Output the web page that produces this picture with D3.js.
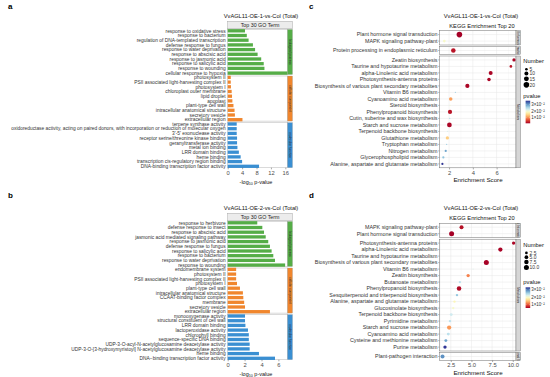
<!DOCTYPE html>
<html><head><meta charset="utf-8">
<script src="https://cdn.jsdelivr.net/npm/d3@7/dist/d3.min.js"></script>
<style>
body{margin:0;background:#fff}
svg{display:block}
text{font-family:"Liberation Sans",Arial,Helvetica,sans-serif}
</style>
</head><body>
<svg id="fig" width="550" height="377"></svg>
<script>
// ---------------- DATA ----------------
const goGroupNames = {BP:"biological process", CC:"cellular component", MF:"molecular function"};
const goGroupColors = {BP:"#55ad47", CC:"#f0862d", MF:"#3a8fd2"};

const goA_title = "VvAGL11-OE-1-vs-Col (Total)";
const goA_terms = [
 "response to oxidative stress","response to bacterium","regulation of DNA-templated transcription","defense response to fungus","response to water deprivation","response to abscisic acid","response to jasmonic acid","response to salicylic acid","response to wounding","cellular response to hypoxia",
 "photosystem II","PSII associated light-harvesting complex II","photosystem I","chloroplast outer membrane","lipid droplet","apoplast","plant-type cell wall","intracellular anatomical structure","secretory vesicle","extracellular region",
 "terpene synthase activity","oxidoreductase activity, acting on paired donors, with incorporation or reduction of molecular oxygen","3'-5' exonuclease activity","receptor serine/threonine kinase binding","geranyltransferase activity","metal ion binding","LRR domain binding","heme binding","transcription cis-regulatory region binding","DNA-binding transcription factor activity"];
const goA_values = [4.8,5.3,5.8,7.0,7.6,8.3,9.3,10.0,10.2,16.6, 0.85,0.85,0.9,1.1,1.2,1.3,1.6,1.9,2.0,4.1, 2.5,2.5,2.5,2.6,2.6,2.7,3.1,3.6,4.0,8.7];
const goA_groups = ["BP","BP","BP","BP","BP","BP","BP","BP","BP","BP","CC","CC","CC","CC","CC","CC","CC","CC","CC","CC","MF","MF","MF","MF","MF","MF","MF","MF","MF","MF"];
const goA_ticks = [0,4,8,12,16];

const goB_title = "VvAGL11-OE-2-vs-Col (Total)";
const goB_terms = [
 "response to herbivore","defense response to insect","response to abscisic acid","jasmonic acid mediated signaling pathway","response to jasmonic acid","defense response to fungus","response to salicylic acid","response to bacterium","response to water deprivation","response to wounding",
 "endomembrane system","photosystem II","PSII associated light-harvesting complex II","photosystem I","plant-type cell wall","intracellular anatomical structure","CCAAT-binding factor complex","membrane","secretory vesicle","extracellular region",
 "monooxygenase activity","structural constituent of cell wall","LRR domain binding","lactoperoxidase activity","chlorophyll binding","sequence-specific DNA binding","UDP-3-O-acyl-N-acetylglucosamine deacetylase activity","UDP-3-O-[3-hydroxymyristoyl] N-acetylglucosamine deacetylase activity","heme binding","DNA\u2212binding transcription factor activity"];
const goB_values = [3.5,4.1,4.3,4.5,4.8,5.0,5.2,5.4,5.6,6.8, 1.0,1.0,1.0,1.1,1.45,1.8,1.85,1.95,2.05,5.0, 2.05,2.05,2.1,2.4,2.5,2.5,2.6,2.6,3.7,5.6];
const goB_groups = ["BP","BP","BP","BP","BP","BP","BP","BP","BP","BP","CC","CC","CC","CC","CC","CC","CC","CC","CC","CC","MF","MF","MF","MF","MF","MF","MF","MF","MF","MF"];
const goB_ticks = [0,2,4,6];

const keggClassNames = {EIP:"Environmental Information Processing", GIP:"Genetic Information Processing", M:"Metabolism", OS:"Organismal Systems"};

const keggC_title = "VvAGL11-OE-1-vs-Col (Total)";
const keggC_terms = ["Plant hormone signal transduction","MAPK signaling pathway-plant","Protein processing in endoplasmic reticulum",
 "Zeatin biosynthesis","Taurine and hypotaurine metabolism","alpha-Linolenic acid metabolism","Photosynthesis-antenna proteins","Biosynthesis of various plant secondary metabolites","Vitamin B6 metabolism","Cyanoamino acid metabolism","Steroid biosynthesis","Phenylpropanoid biosynthesis","Cutin, suberine and wax biosynthesis","Starch and sucrose metabolism","Terpenoid backbone biosynthesis","Glutathione metabolism","Tryptophan metabolism","Nitrogen metabolism","Glycerophospholipid metabolism","Alanine, aspartate and glutamate metabolism"];
const keggC_class = ["EIP","EIP","GIP","M","M","M","M","M","M","M","M","M","M","M","M","M","M","M","M","M"];
const keggC_score = [2.87,1.6,2.36,7.46,7.2,5.5,5.36,3.54,2.53,2.14,2.08,2.08,2.06,2.03,1.86,1.86,1.8,1.72,1.52,1.44];
const keggC_count = [20,5,13,7,5,10,8,11,3,8,3,11,3,14,3,7,3,4,4,4];
const keggC_pvalue = [0.0016,0.019,0.003,0.002,0.003,0.002,0.002,0.002,0.026,0.011,0.020,0.003,0.025,0.002,0.022,0.014,0.026,0.029,0.027,0.0354];
const keggC_sizeBreaks = [5,10,15,20];
const keggC_pBreaks = [0.03,0.02,0.01];
const keggC_ticks = [2,4,6];

const keggD_title = "VvAGL11-OE-2-vs-Col (Total)";
const keggD_terms = ["MAPK signaling pathway-plant","Plant hormone signal transduction",
 "Photosynthesis-antenna proteins","alpha-Linolenic acid metabolism","Taurine and hypotaurine metabolism","Biosynthesis of various plant secondary metabolites","Vitamin B6 metabolism","Zeatin biosynthesis","Butanoate metabolism","Phenylpropanoid biosynthesis","Sesquiterpenoid and triterpenoid biosynthesis","Alanine, aspartate and glutamate metabolism","Glucosinolate biosynthesis","Terpenoid backbone biosynthesis","Pyrimidine metabolism","Starch and sucrose metabolism","Cyanoamino acid metabolism","Cysteine and methionine metabolism","Purine metabolism",
 "Plant-pathogen interaction"];
const keggD_class = ["EIP","EIP","M","M","M","M","M","M","M","M","M","M","M","M","M","M","M","M","M","OS"];
const keggD_score = [3.8,2.6,10.1,8.5,7.5,6.8,5.2,4.6,3.6,3.5,3.25,2.95,2.8,2.55,2.4,2.3,2.2,1.9,1.8,1.5];
const keggD_count = [6,10,4,7,1,10,1,4,2,8,2,2,2,3,2,7,3,3,4,6];
const keggD_pvalue = [0.0065,0.0056,0.006,0.0058,0.02,0.0057,0.022,0.012,0.024,0.0062,0.026,0.019,0.020,0.023,0.024,0.013,0.024,0.028,0.0332,0.029];
const keggD_sizeBreaks = [2.5,5,7.5,10];
const keggD_pBreaks = [0.03,0.02,0.01];
const keggD_ticks = [2.5,5,7.5,10];

// ---------------- DRAW ----------------
const svg = d3.select("#fig");
svg.append("rect").attr("width",550).attr("height",377).attr("fill","#fff");
const axisCol = "#4d4d4d";

function panelLetter(t,x,y){
  svg.append("text").attr("x",x).attr("y",y).attr("font-size",8).attr("font-weight","bold").attr("fill","#000").text(t);
}

function drawGO(cfg){
  const g = svg.append("g").attr("transform",`translate(0,${cfg.yOff})`);
  const left = 227.7, right = 287.5, stripW = 5;
  const x = d3.scaleLinear().domain([0,cfg.xMax]).range([left,right]);
  g.append("text").attr("x",261).attr("y",18).attr("text-anchor","middle").attr("font-size",5.7).attr("fill","#111").text(cfg.title);
  g.append("rect").attr("x",left).attr("y",21.2).attr("width",right+stripW-left).attr("height",7.6).attr("fill","#ececec").attr("stroke","#9a9a9a").attr("stroke-width",0.4);
  g.append("text").attr("x",(left+right+stripW)/2).attr("y",26.9).attr("text-anchor","middle").attr("font-size",5.3).attr("fill","#1a1a1a").text("Top 30 GO Term");
  const groups = ["BP","CC","MF"];
  const tops = [29.4,76.0,122.6], ph = 45.1;
  groups.forEach((grp,gi)=>{
    const idx = cfg.groups.map((d,i)=>d===grp?i:-1).filter(i=>i>=0);
    const terms = idx.map(i=>cfg.terms[i]);
    const top = tops[gi];
    const y = d3.scalePoint().domain(terms).range([top,top+ph]).padding(0.3);
    g.append("rect").attr("x",left).attr("y",top).attr("width",right-left).attr("height",ph).attr("fill","#fff").attr("stroke","#b5b5b5").attr("stroke-width",0.5);
    g.selectAll(null).data(idx).enter().append("rect")
      .attr("x",x(0)).attr("y",i=>y(cfg.terms[i])-1.65).attr("height",3.3)
      .attr("width",i=>x(cfg.values[i])-x(0)).attr("fill",goGroupColors[grp]);
    g.selectAll(null).data(idx).enter().append("text")
      .attr("x",225.6).attr("y",i=>y(cfg.terms[i])+1.7).attr("text-anchor","end")
      .attr("font-size",4.85).attr("fill","#333").text(i=>cfg.terms[i]);
    g.append("rect").attr("x",right).attr("y",top).attr("width",stripW).attr("height",ph).attr("fill",goGroupColors[grp]).attr("stroke","#9a9a9a").attr("stroke-width",0.3);
    g.append("text").attr("transform",`translate(${right+stripW/2-1},${top+ph/2}) rotate(90)`).attr("text-anchor","middle")
      .attr("font-size",3.2).attr("fill","#2a2a2a").text(goGroupNames[grp]);
  });
  const bottom = tops[2]+ph;
  const ax = g.append("g").attr("transform",`translate(0,${bottom})`)
    .call(d3.axisBottom(x).tickValues(cfg.ticks).tickSize(1.6).tickPadding(1.2).tickFormat(d3.format("d")));
  ax.select(".domain").remove();
  ax.selectAll("line").attr("stroke","#555").attr("stroke-width",0.5);
  ax.selectAll("text").attr("font-size",5.8).attr("fill",axisCol).attr("font-family",null);
  const t = g.append("text").attr("x",256).attr("y",bottom+16).attr("text-anchor","middle").attr("font-size",5.5).attr("fill","#111");
  t.append("tspan").text("-log");
  t.append("tspan").attr("font-size",3.7).attr("dy",1.2).text("10");
  t.append("tspan").attr("dy",-1.2).text(" p-value");
}

function drawKEGG(cfg){
  const g = svg.append("g").attr("transform",`translate(0,${cfg.yOff})`);
  const left = 439.3, right = 516, stripW = 4.6, u = 6.5, gap = 1.6;
  const x = d3.scaleLinear().domain(cfg.xDomain).range([left,right]);
  const pExt = d3.extent(cfg.pvalue);
  const color = d3.scaleSequential(d3.interpolateRdYlBu).domain(pExt);
  const cExt = d3.extent(cfg.count);
  const r = n => 0.55 + Math.sqrt(Math.max(0,(n-cExt[0])/(cExt[1]-cExt[0])))*(cfg.rMax-0.55);
  g.append("text").attr("x",481).attr("y",18).attr("text-anchor","middle").attr("font-size",5.7).attr("fill","#111").text(cfg.title);
  g.append("text").attr("x",482).attr("y",28).attr("text-anchor","middle").attr("font-size",5.7).attr("fill","#111").text("KEGG Enrichment Top 20");
  const classes = [...new Set(cfg.cls)];
  let top = cfg.top;
  classes.forEach((cl,ci)=>{
    const idx = cfg.cls.map((d,i)=>d===cl?i:-1).filter(i=>i>=0);
    const terms = idx.map(i=>cfg.terms[i]);
    const ph = (terms.length-1+1.2)*u;
    const y = d3.scalePoint().domain(terms).range([top,top+ph]).padding(0.6);
    g.append("rect").attr("x",left).attr("y",top).attr("width",right-left).attr("height",ph).attr("fill","#fff");
    const ticks = cfg.ticks;
    const minor = [];
    const allT = [ticks[0]-cfg.step].concat(ticks).concat([ticks[ticks.length-1]+cfg.step]);
    for(let k=0;k<allT.length-1;k++){ const m=(allT[k]+allT[k+1])/2; if(m>cfg.xDomain[0]&&m<cfg.xDomain[1]) minor.push(m); }
    g.selectAll(null).data(minor).enter().append("line").attr("x1",d=>x(d)).attr("x2",d=>x(d)).attr("y1",top).attr("y2",top+ph).attr("stroke","#f0f0f0").attr("stroke-width",0.35);
    g.selectAll(null).data(ticks).enter().append("line").attr("x1",d=>x(d)).attr("x2",d=>x(d)).attr("y1",top).attr("y2",top+ph).attr("stroke","#e6e6e6").attr("stroke-width",0.5);
    g.selectAll(null).data(terms).enter().append("line").attr("x1",left).attr("x2",right).attr("y1",d=>y(d)).attr("y2",d=>y(d)).attr("stroke","#e6e6e6").attr("stroke-width",0.5);
    g.append("rect").attr("x",left).attr("y",top).attr("width",right-left).attr("height",ph).attr("fill","none").attr("stroke","#6e6e6e").attr("stroke-width",0.5);
    g.selectAll(null).data(terms).enter().append("line").attr("x1",left-1.2).attr("x2",left).attr("y1",d=>y(d)).attr("y2",d=>y(d)).attr("stroke","#555").attr("stroke-width",0.4);
    g.selectAll(null).data(terms).enter().append("text").attr("x",left-1.8).attr("y",d=>y(d)+1.85)
      .attr("text-anchor","end").attr("font-size",5.35).attr("fill","#333").text(d=>d);
    g.selectAll(null).data(idx).enter().append("circle")
      .attr("cx",i=>x(cfg.score[i])).attr("cy",i=>y(cfg.terms[i])).attr("r",i=>r(cfg.count[i]))
      .attr("fill",i=>color(cfg.pvalue[i]));
    const cid = "clip"+cfg.id+"_"+ci;
    g.append("clipPath").attr("id",cid).append("rect").attr("x",right).attr("y",top).attr("width",stripW).attr("height",ph);
    g.append("rect").attr("x",right).attr("y",top).attr("width",stripW).attr("height",ph).attr("fill","#d6d6d6").attr("stroke","#6e6e6e").attr("stroke-width",0.4);
    g.append("g").attr("clip-path",`url(#${cid})`).append("text")
      .attr("transform",`translate(${right+stripW/2-1.1},${top+ph/2}) rotate(90)`).attr("text-anchor","middle")
      .attr("font-size",3.1).attr("fill","#1a1a1a").text(keggClassNames[cl]);
    top += ph + gap;
  });
  const bottom = top - gap;
  const ax = g.append("g").attr("transform",`translate(0,${bottom})`)
    .call(d3.axisBottom(x).tickValues(cfg.ticks).tickSize(1.6).tickPadding(1.2).tickFormat(cfg.fmt));
  ax.select(".domain").remove();
  ax.selectAll("line").attr("stroke","#555").attr("stroke-width",0.5);
  ax.selectAll("text").attr("font-size",5.8).attr("fill",axisCol).attr("font-family",null);
  g.append("text").attr("x",478).attr("y",bottom+14.5).attr("text-anchor","middle").attr("font-size",6.2).attr("fill","#111").text("Enrichment Score");
  const lg = g.append("g");
  lg.append("text").attr("x",523.3).attr("y",cfg.legTop).attr("font-size",5.8).attr("fill","#111").text("Number");
  let ly = cfg.legTop + 4.6;
  cfg.sizeBreaks.forEach(b=>{
    const rr = r(b);
    ly += Math.max(rr,1.6);
    lg.append("circle").attr("cx",526.4).attr("cy",ly).attr("r",rr).attr("fill","#000");
    lg.append("text").attr("x",529.6).attr("y",ly+1.7).attr("font-size",4.9).attr("fill","#333").text(cfg.sizeFmt(b));
    ly += Math.max(rr,1.6)+0.8;
  });
  const cTop = cfg.cbTop, cH = cfg.cbH;
  lg.append("text").attr("x",523.3).attr("y",cTop-3).attr("font-size",5.8).attr("fill","#111").text("pvalue");
  const gid = "grad"+cfg.id;
  const grad = svg.append("defs").append("linearGradient").attr("id",gid).attr("x1",0).attr("y1",1).attr("x2",0).attr("y2",0);
  d3.range(0,1.0001,0.1).forEach(t=>grad.append("stop").attr("offset",t).attr("stop-color",d3.interpolateRdYlBu(t)));
  lg.append("rect").attr("x",525.6).attr("y",cTop).attr("width",4.6).attr("height",cH).attr("fill",`url(#${gid})`);
  const py = d3.scaleLinear().domain(pExt).range([cTop+cH,cTop]);
  cfg.pBreaks.forEach(p=>{
    const yy = py(p);
    lg.append("line").attr("x1",525.6).attr("x2",526.6).attr("y1",yy).attr("y2",yy).attr("stroke","#fff").attr("stroke-width",0.4);
    lg.append("line").attr("x1",529.2).attr("x2",530.2).attr("y1",yy).attr("y2",yy).attr("stroke","#fff").attr("stroke-width",0.4);
    const m = Math.round(p*100);
    lg.append("text").attr("x",531.2).attr("y",yy+1.6).attr("font-size",4.5).attr("fill","#333").text(m+"\u00d710\u207b\u00b2");
  });
}

panelLetter("a",8,9);
panelLetter("b",8,198);
panelLetter("c",309,9);
panelLetter("d",309,198);

drawGO({yOff:0,title:goA_title,terms:goA_terms,values:goA_values,groups:goA_groups,xMax:16.6,ticks:goA_ticks});
drawGO({yOff:192,title:goB_title,terms:goB_terms,values:goB_values,groups:goB_groups,xMax:7.08,ticks:goB_ticks});

drawKEGG({id:"c",yOff:0,top:30.7,title:keggC_title,terms:keggC_terms,cls:keggC_class,score:keggC_score,count:keggC_count,pvalue:keggC_pvalue,
  xDomain:[1.18,7.63],ticks:keggC_ticks,step:2,fmt:d3.format("d"),rMax:2.8,sizeBreaks:keggC_sizeBreaks,sizeFmt:d3.format("d"),pBreaks:keggC_pBreaks,
  legTop:63,cbTop:100.7,cbH:22.6});
drawKEGG({id:"d",yOff:192,top:31.3,title:keggD_title,terms:keggD_terms,cls:keggD_class,score:keggD_score,count:keggD_count,pvalue:keggD_pvalue,
  xDomain:[1.11,10.39],ticks:keggD_ticks,step:2.5,fmt:d3.format(".1f"),rMax:2.5,sizeBreaks:keggD_sizeBreaks,sizeFmt:d3.format(".1f"),pBreaks:keggD_pBreaks,
  legTop:54.7,cbTop:95.3,cbH:20.7});
</script>
</body></html>
